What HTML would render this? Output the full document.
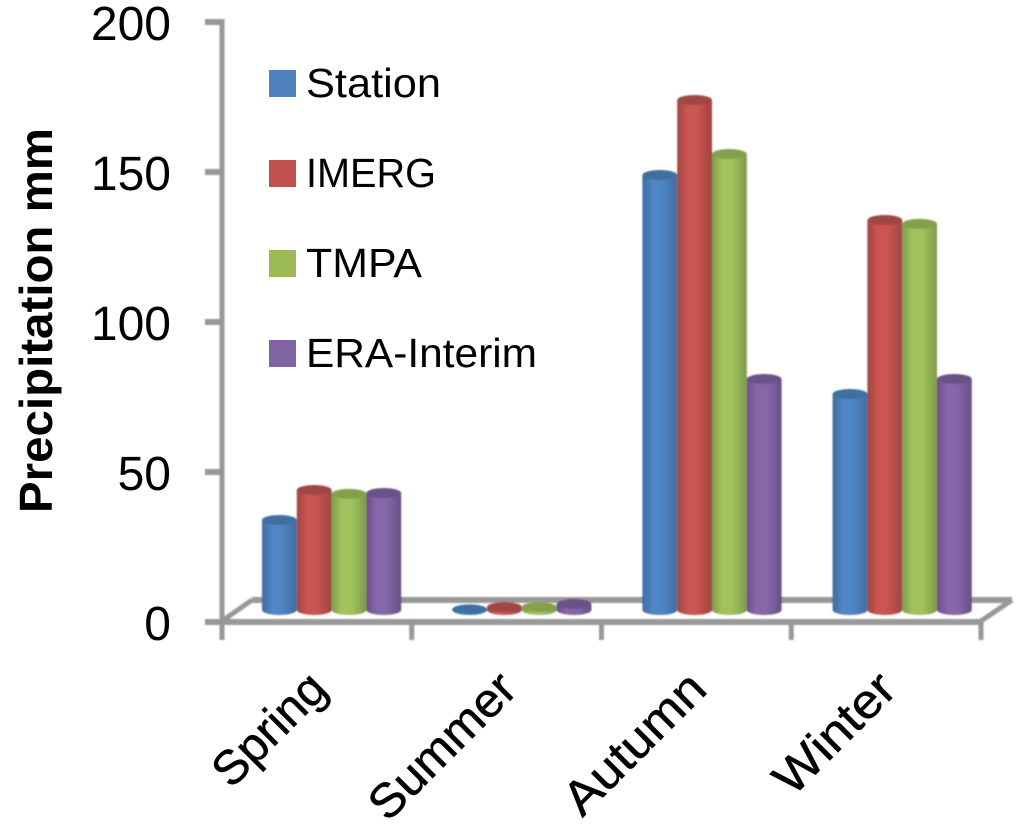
<!DOCTYPE html>
<html>
<head>
<meta charset="utf-8">
<title>Precipitation chart</title>
<style>
html,body{margin:0;padding:0;background:#fff;width:1024px;height:828px;overflow:hidden}
svg{display:block}
text{font-family:"Liberation Sans",sans-serif;fill:#000}
</style>
</head>
<body>
<svg id="chart" xmlns="http://www.w3.org/2000/svg" width="1024" height="828" viewBox="0 0 1024 828">
<defs>
<filter id="soft" x="-5%" y="-5%" width="110%" height="110%"><feGaussianBlur stdDeviation="0.7"/></filter>
<linearGradient id="g0"><stop offset="0" stop-color="#3f6b9f"/><stop offset=".3" stop-color="#4f87c8"/><stop offset=".6" stop-color="#4f84c2"/><stop offset="1" stop-color="#416c9e"/></linearGradient>
<linearGradient id="g1"><stop offset="0" stop-color="#9e4543"/><stop offset=".3" stop-color="#cc5451"/><stop offset=".6" stop-color="#c95350"/><stop offset="1" stop-color="#9d4543"/></linearGradient>
<linearGradient id="g2"><stop offset="0" stop-color="#809c4a"/><stop offset=".3" stop-color="#a2c45d"/><stop offset=".6" stop-color="#a0c15b"/><stop offset="1" stop-color="#7f9a49"/></linearGradient>
<linearGradient id="g3"><stop offset="0" stop-color="#6a4f87"/><stop offset=".3" stop-color="#8768ab"/><stop offset=".6" stop-color="#8566a8"/><stop offset="1" stop-color="#684f86"/></linearGradient>
</defs>
<g id="axes" filter="url(#soft)"></g>
<g id="bars" filter="url(#soft)"></g>
<g id="labels"></g>
<text transform="translate(52,513) rotate(-90)" font-size="46" font-weight="bold" textLength="385" lengthAdjust="spacingAndGlyphs">Precipitation mm</text>
<g>
<rect x="269" y="70" width="27" height="27" fill="#4f81bd"/>
<text x="306" y="97" font-size="41" textLength="135" lengthAdjust="spacingAndGlyphs">Station</text>
<rect x="269" y="160" width="27" height="27" fill="#c0504d"/>
<text x="306" y="187" font-size="41" textLength="130" lengthAdjust="spacingAndGlyphs">IMERG</text>
<rect x="269" y="250" width="27" height="27" fill="#9bbb59"/>
<text x="306" y="277" font-size="41" textLength="116" lengthAdjust="spacingAndGlyphs">TMPA</text>
<rect x="269" y="340" width="27" height="27" fill="#8064a2"/>
<text x="306" y="367" font-size="41" textLength="231" lengthAdjust="spacingAndGlyphs">ERA-Interim</text>
</g>
</svg>
<script>
const categories = ["Spring", "Summer", "Autumn", "Winter"];
const stationValues = [30, 0.2, 145, 72];
const imergValues = [40, 1, 170, 130];
const tmpaValues = [38.7, 1, 152, 128.7];
const eraValues = [39, 2, 77, 77];
const yTicks = [0, 50, 100, 150, 200];

const svgNS = "http://www.w3.org/2000/svg";
const axesG = document.getElementById("axes");
const barsG = document.getElementById("bars");
const labelsG = document.getElementById("labels");
const seriesList = [stationValues, imergValues, tmpaValues, eraValues];
const seriesNames = ["station", "imerg", "tmpa", "era-interim"];
const seriesTop = ["#41709f", "#a04644", "#84a04c", "#6c5189"];

const axisGray = "#989898";
const yFront = v => 622 - v * 3;
const yBar = v => 610 - v * 3;
const xCat = i => 222 + i * 189.75;
const barW = 34.8;
const xBar = (i, s) => 262 + i * 190.2 + s * barW;
const ry = 5;

function el(parent, tag, attrs) {
  const e = document.createElementNS(svgNS, tag);
  Object.keys(attrs).forEach(k => e.setAttribute(k, attrs[k]));
  parent.appendChild(e);
  return e;
}
function axisLine(parent, x1, y1, x2, y2, w) {
  return el(parent, "line", {x1: x1, y1: y1, x2: x2, y2: y2, stroke: axisGray, "stroke-width": w});
}
// Rendered text lengths, fitting the substitute font to the reference label widths
function labelFit(c) {
  if (c === "Spring") return 139;
  if (c === "Summer") return 186;
  if (c === "Autumn") return 179;
  if (c === "Winter") return 150;
  return c.length * 27;
}

// floor back edge, side edges and front edge
let ln = axisLine(axesG, xCat(0) + 30, 600, xCat(4) + 31, 600, 6);


ln = axisLine(axesG, xCat(0), 621, xCat(0) + 30, 600, 5);


ln = axisLine(axesG, xCat(4), 621, xCat(4) + 31, 600, 5);


ln = axisLine(axesG, 205, yFront(0), xCat(4) + 2, yFront(0), 6);


ln = axisLine(axesG, 222, yFront(200) - 3, 222, 624, 5);



yTicks.forEach(t => {
  const tick = axisLine(axesG, 205, yFront(t), 222, yFront(t), 6);
  
  
  const label = el(labelsG, "text", {x: 171, y: yFront(t) + 18, "font-size": 48, "text-anchor": "end"});
  label.textContent = String(t);
  
  
});

for (let i = 0; i <= categories.length; i++) {
  const tick = axisLine(axesG, xCat(i), 621, xCat(i), 640, 5);
  
  
}

categories.forEach((c, i) => {
  const ax = xCat(i) + 107.5;
  const ay = 691.5;
  const label = el(labelsG, "text", {
    transform: "translate(" + ax + "," + ay + ") rotate(-45)",
    "font-size": 48,
    "text-anchor": "end",
    textLength: labelFit(c),
    lengthAdjust: "spacingAndGlyphs",
    stroke: "#000",
    "stroke-width": 0.5
  });
  label.textContent = c;
  
  
});

categories.forEach((c, i) => {
  seriesList.forEach((vals, s) => {
    const x = xBar(i, s);
    const top = yBar(vals[i]);
    const base = yBar(0);
    const body = el(barsG, "path", {
      d: "M" + x + " " + top + " V" + base + " A" + barW / 2 + " " + ry + " 0 0 0 " + (x + barW) + " " + base + " V" + top + " Z",
      fill: "url(#g" + s + ")"
    });
    
    
    const cap = el(barsG, "ellipse", {cx: x + barW / 2, cy: top, rx: barW / 2, ry: ry, fill: seriesTop[s]});
    
    
  });
});
</script>
</body>
</html>
